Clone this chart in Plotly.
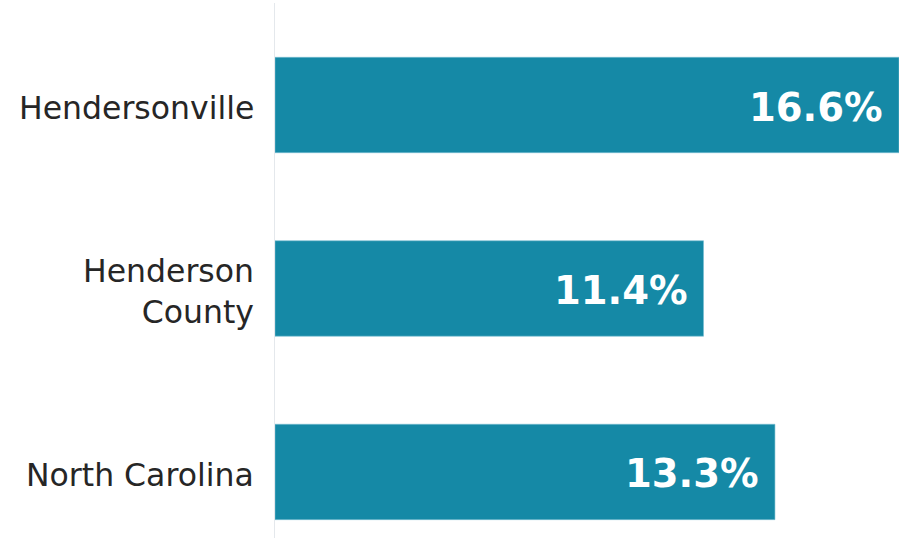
import plotly.graph_objects as go

# Share of population (percent) by area
areas = ["Hendersonville", "Henderson<br>County", "North Carolina"]
values = [16.6, 11.4, 13.3]
value_labels = [f"{v:.1f}%" for v in values]

bar_color = "#1589A6"

fig = go.Figure()
fig.add_trace(go.Bar(
    x=values,
    y=areas,
    orientation="h",
    width=0.52,
    marker=dict(color=bar_color, line=dict(color="rgba(120,190,210,0.6)", width=1)),
    hoverinfo="skip",
))

# Area names to the left of the axis line
for area in areas:
    fig.add_annotation(
        x=0, y=area, xref="x", yref="y", text=area,
        xanchor="right", yanchor="middle", align="right",
        xshift=-19, yshift=-3, showarrow=False,
        font=dict(family="DejaVu Sans", size=31.5, color="#262626"),
    )

# Value labels placed just inside the end of each bar
for area, v, lab in zip(areas, values, value_labels):
    fig.add_annotation(
        x=v, y=area, text=f"<b>{lab}</b>",
        xanchor="right", yanchor="middle", xshift=-14, yshift=-2,
        showarrow=False,
        font=dict(family="DejaVu Sans", size=38.5, color="white"),
    )

fig.update_layout(
    width=901, height=538,
    margin=dict(l=275, r=2, t=3, b=0),
    paper_bgcolor="white",
    plot_bgcolor="white",
    showlegend=False,
    xaxis=dict(range=[0, 16.6], visible=False, showgrid=False, zeroline=False),
    yaxis=dict(
        range=[2.36, -0.556],
        showgrid=False, zeroline=False,
        showline=True, linecolor="#e4e8ec", linewidth=1,
        showticklabels=False, ticks="",
    ),
)

fig.write_html("out.html")
